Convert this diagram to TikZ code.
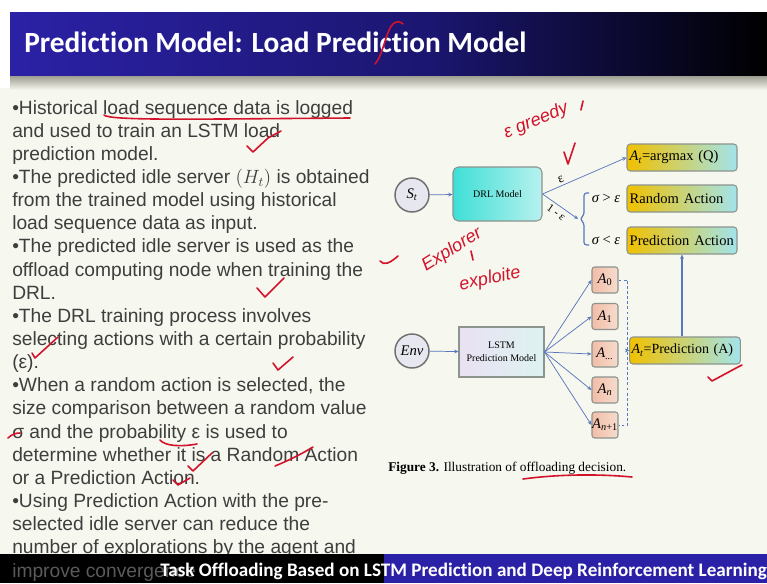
\documentclass[tikz,border=0pt]{standalone}
\usepackage{fontspec}
\setmainfont{Liberation Serif}
\newfontfamily\bodyfont{Liberation Sans}
\newfontfamily\slidefont[Ligatures=NoCommon]{Carlito}
\usetikzlibrary{arrows.meta,calc}

\definecolor{slidebg}{HTML}{F6F7EE}
\definecolor{barblue}{HTML}{2B21A6}
\definecolor{bardeep}{HTML}{1B1670}
\definecolor{shadowgray}{HTML}{9E9E92}
\definecolor{bodygray}{HTML}{3E3E3E}
\definecolor{dimgray}{HTML}{5A5A5A}
\definecolor{linkblue}{HTML}{5A76BE}
\definecolor{ink}{HTML}{D3132C}
\definecolor{gold}{HTML}{F1C100}
\definecolor{olivemid}{HTML}{C4D46E}
\definecolor{aqua}{HTML}{A2E4EC}
\definecolor{tealstrong}{HTML}{3EDFD6}
\definecolor{teallight}{HTML}{B8F1EE}
\definecolor{lavender}{HTML}{E9E1F2}
\definecolor{mint}{HTML}{DDF3F1}
\definecolor{salmon}{HTML}{F2BDA8}
\definecolor{salmonlight}{HTML}{F6DCCC}
\definecolor{boxedge}{HTML}{8C948E}
\definecolor{circedge}{HTML}{707070}
\definecolor{circfill}{HTML}{E7E7EF}

\tikzset{
  bodyline/.style={anchor=base west, inner sep=0pt, text=bodygray,
    font=\bodyfont\fontsize{14.4}{17}\selectfont},
  circ/.style={circle, draw=circedge, line width=1.1pt, fill=circfill,
    minimum size=25.5pt, inner sep=0pt, font=\fontsize{11}{12}\selectfont},
  drlbox/.style={draw=boxedge, line width=0.8pt, rounded corners=4pt,
    left color=tealstrong, right color=teallight,
    minimum width=66.75pt, minimum height=40.5pt, font=\fontsize{7.5}{9}\selectfont},
  lstmbox/.style={draw=boxedge, line width=0.8pt, left color=lavender, right color=mint,
    minimum width=63.75pt, minimum height=37.5pt, align=center,
    font=\fontsize{7.5}{10}\selectfont},
  actbox/.style={draw=boxedge, line width=0.8pt, rounded corners=2.5pt,
    left color=gold, middle color=olivemid, right color=aqua,
    text width=78.5pt, inner xsep=2pt, minimum height=20.25pt, align=left,
    font=\fontsize{10.9}{12}\selectfont},
  abox/.style={draw=boxedge, line width=0.8pt, rounded corners=2pt,
    left color=salmon, right color=salmonlight,
    minimum size=19.5pt, inner sep=0pt, font=\fontsize{11}{12}\selectfont},
  cond/.style={inner sep=0pt, font=\fontsize{10.9}{12}\selectfont},
  conn/.style={draw=linkblue, line width=0.55pt, -{Stealth[length=3.2pt,width=2.8pt]}},
  inkline/.style={draw=ink, line width=1.2pt, line cap=round, line join=round},
  inktext/.style={text=ink, inner sep=0pt, font=\bodyfont\itshape\fontsize{13.5}{14}\selectfont},
}

\begin{document}
\begin{tikzpicture}[x=0.75pt,y=-0.75pt]
\useasboundingbox (0,0) rectangle (767,583);

% slide background, title bar and its shadow
\fill[slidebg] (0,0) rectangle (767,583);
\fill[white] (0,0) rectangle (767,12);
\fill[white] (0,0) rectangle (10,88);
\shade[left color=barblue, right color=bardeep] (10,12) rectangle (430,76);
\shade[left color=bardeep, right color=black] (430,12) rectangle (767,76);
\shade[top color=shadowgray, bottom color=slidebg] (10,76) rectangle (767,90);
\node[anchor=base west, inner sep=0pt, text=white,
      font=\slidefont\bfseries\fontsize{22}{26}\selectfont] (title) at (24,52)
      {Prediction Model: Load Prediction Model};

% bullet text
\foreach \t [count=\i from 0] in {
  {•Historical load sequence data is logged},
  {and used to train an LSTM load},
  {prediction model.},
  {•The predicted idle server $(H_t)$ is obtained},
  {from the trained model using historical},
  {load sequence data as input.},
  {•The predicted idle server is used as the},
  {offload computing node when training the},
  {DRL.},
  {•The DRL training process involves},
  {selecting actions with a certain probability},
  {(ε).},
  {•When a random action is selected, the},
  {size comparison between a random value},
  {σ and the probability ε is used to},
  {determine whether it is a Random Action},
  {or a Prediction Action.},
  {•Using Prediction Action with the pre-},
  {selected idle server can reduce the},
  {number of explorations by the agent and}}
  \node[bodyline] (line\i) at (12,{114+23.15*\i}) {\t};

% footer bar
\fill[black] (0,554) rectangle (384,583);
\fill[barblue] (384,554) rectangle (767,583);
\node[bodyline, text=dimgray] (lastline) at (12,577) {improve convergence};
\node[anchor=base west, inner sep=0pt, text=white,
      font=\slidefont\bfseries\fontsize{14.35}{17}\selectfont] (footer) at (160,576)
      {Task Offloading Based on LSTM Prediction and Deep Reinforcement Learning};

% decision diagram
\node[circ] (st) at (412,195) {\itshape S\textsubscript{t}};
\node[drlbox] (drl) at (497.5,194) {DRL Model};
\node[actbox] (amax) at (682,157.5) {\itshape A\textsubscript{t}\upshape=argmax (Q)};
\node[actbox] (rand) at (682,198.5) {Random Action};
\node[actbox] (pact) at (682,240.5) {Prediction Action};
\node[cond] (gt) at (606,198.5) {\itshape σ \upshape> \itshape ε};
\node[cond] (lt) at (606,240.5) {\itshape σ \upshape< \itshape ε};
\coordinate (brtip) at (578,219);

\node[circ] (env) at (412,351) {\itshape Env};
\node[lstmbox] (lstm) at (501.5,352) {LSTM\\Prediction Model};
\node[abox] (a0) at (605,280) {\itshape A\textsubscript{\upshape 0}};
\node[abox] (a1) at (605,316.5) {\itshape A\textsubscript{\upshape 1}};
\node[abox] (adots) at (605,354) {\itshape A\textsubscript{...}};
\node[abox] (an) at (605,390) {\itshape A\textsubscript{n}};
\node[abox] (an1) at (605,425) {\itshape A\textsubscript{n\upshape +1}};
\node[actbox, text width=80pt, inner xsep=1.5pt, font=\fontsize{10.5}{12}\selectfont] (pred) at (685,350.5)
  {\itshape A\textsubscript{t}\upshape=Prediction (A)};

\draw[conn] (st) -- (drl);
\draw[conn] (drl.east) -- node[sloped, above, pos=0.25, inner sep=2pt, font=\fontsize{10}{11}\selectfont] {ε} (amax.west);
\draw[conn] (drl.east) -- node[sloped, below, inner sep=2pt, font=\fontsize{8.5}{9}\selectfont] {1 - ε} (brtip);
\draw[linkblue, line width=0.9pt, rounded corners=2pt]
  (589,193) -- (584,193) -- (584,215) -- (580,219) -- (584,223) -- (584,245) -- (589,245);

\draw[conn] (env) -- (lstm);
\foreach \a in {a0,a1,adots,an,an1}
  \draw[conn] (lstm.east) -- (\a.west);
\coordinate (dtop) at ($(a0.east)+(9,0)$);
\coordinate (dbot) at ($(an1.east)+(9,0)$);
\draw[linkblue, line width=0.7pt, dash pattern=on 2.2pt off 1.6pt]
  (a0.east) -- (dtop) -- (dbot) -- (an1.east);
\coordinate (dmid) at (dtop |- pred.west);
\draw[conn] (dmid) -- (pred.west);
\draw[conn, line width=0.8pt] (pact.south |- pred.north) -- (pact.south);

\node[anchor=base west, inner sep=0pt, font=\fontsize{10}{12}\selectfont] (cap) at (388,471)
  {\textbf{Figure 3.} Illustration of offloading decision.};

% handwritten marks in red ink
\draw[inkline] (375,64) .. controls (383,56) and (386,30) .. (393,24) .. controls (396,21) and (400,21) .. (403,24);
\draw[inkline] (104,115) .. controls (110,121) and (200,119) .. (350,118);
\draw[inkline] (247,146) -- (253,152) -- (268,138) -- (281,131);
\draw[inkline] (257,288) -- (265,297) -- (284,278);
\draw[inkline] (32,353) -- (35,358) -- (58,337);
\draw[inkline] (273,363) -- (278,370) -- (293,357);
\draw[inkline] (8,438) .. controls (12,434) and (16,433) .. (20,433);
\draw[inkline] (160,440) .. controls (165,446) and (180,447) .. (197,444);
\draw[inkline] (188,466) -- (193,471) -- (212,453);
\draw[inkline] (275,466) .. controls (285,462) and (300,455) .. (313,447);
\draw[inkline] (173,480) -- (178,485) -- (190,478);
\draw[inkline] (708,377) -- (712,381) -- (738,367) -- (742,365);
\draw[inkline] (523,479) .. controls (560,474) and (600,474) .. (632,477);
\draw[inkline] (564,152) -- (568,164) -- (575,143);
\draw[inkline] (583,101) -- (581,110);
\draw[inkline] (380,261) .. controls (384,266) and (390,263) .. (398,256);
\draw[inkline] (471,251) -- (473,260);
\node[inktext, rotate=22] (greedy) at (536,121) {ε greedy};
\node[inktext, rotate=32] (explore) at (452,250) {Explorer};
\node[inktext, rotate=12] (exploit) at (490,279) {exploite};
\end{tikzpicture}
\end{document}
